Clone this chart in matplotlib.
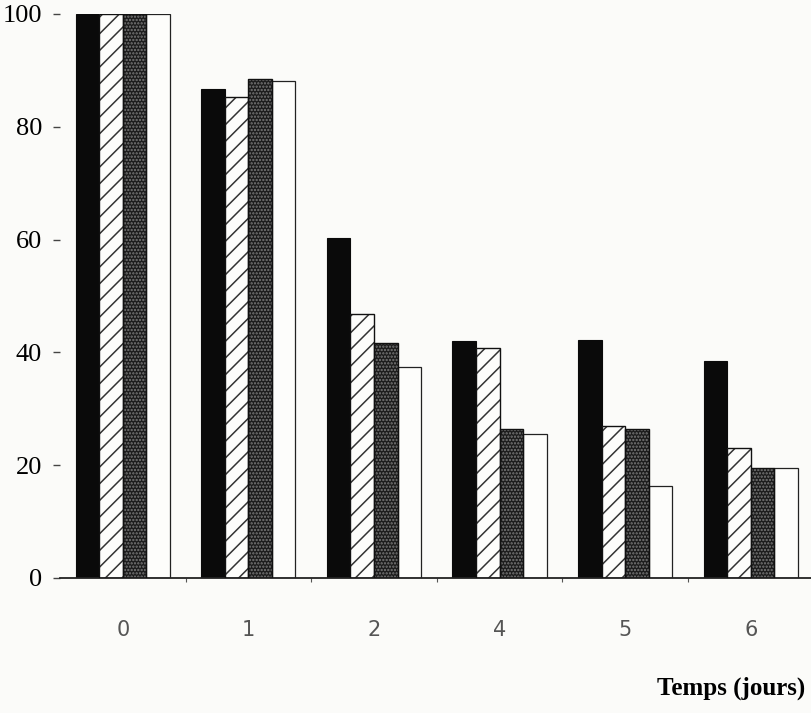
import matplotlib
matplotlib.use("Agg")
import matplotlib.pyplot as plt
import numpy as np

categories = ['0', '1', '2', '4', '5', '6']
serie_noire = [100, 86.7, 60.2, 42.0, 42.2, 38.4]
serie_hachuree = [100, 85.3, 46.8, 40.8, 26.9, 23.1]
serie_pointillee = [100, 88.5, 41.6, 26.4, 26.4, 19.5]
serie_blanche = [100, 88.1, 37.5, 25.5, 16.3, 19.5]
yticks = [0, 20, 40, 60, 80, 100]
xlabel_text = 'Temps (jours)'

plt.rcParams['hatch.linewidth'] = 1.1

fig = plt.figure(figsize=(8.11, 7.13), dpi=100)
fig.patch.set_facecolor('#fbfbf9')
ax = fig.add_axes([60/811, 1-578/713, 751/811, (578-14)/713])
ax.set_facecolor('#fbfbf9')

x = np.arange(len(categories))
w = 0.1875

# black
ax.bar(x - 1.5*w, serie_noire, w, color='#0a0a0a', edgecolor='#0a0a0a', linewidth=0.8, zorder=2)
# hatched
ax.bar(x - 0.5*w, serie_hachuree, w, color='#fdfdfb', edgecolor='#333333', hatch='//', linewidth=0, zorder=2)
ax.bar(x - 0.5*w, serie_hachuree, w, fill=False, edgecolor='#111111', linewidth=1.0, zorder=3)
# dotted dark
ax.bar(x + 0.5*w, serie_pointillee, w, color='#1c1c1c', edgecolor='#7a7a7a', hatch='.....', linewidth=0, zorder=2)
ax.bar(x + 0.5*w, serie_pointillee, w, fill=False, edgecolor='#111111', linewidth=1.0, zorder=3)
# white
ax.bar(x + 1.5*w, serie_blanche, w, color='#fdfdfb', edgecolor='#222222', linewidth=0.9, zorder=2)

ax.set_xlim(-0.5, 5.48)
ax.set_ylim(0, 100)

for s in ['top', 'right', 'left']:
    ax.spines[s].set_visible(False)
ax.spines['bottom'].set_linewidth(1.3)
ax.spines['bottom'].set_color('#222222')

ax.set_yticks(yticks)
ax.set_yticklabels([str(v) for v in yticks], fontfamily='Liberation Serif', fontsize=19)
ax.tick_params(axis='y', length=5, width=1.0, pad=8, color='#444444')

ax.set_xticks(x)
ax.set_xticklabels(categories, fontfamily='DejaVu Sans', fontsize=15, color='#555555')
ax.tick_params(axis='x', which='major', length=0, pad=30)
ax.set_xticks(x[:-1] + 0.5, minor=True)
ax.tick_params(axis='x', which='minor', length=3, width=0.8, color='#555555')

fig.text(805/811, 1-688/713, xlabel_text, ha='right', va='center',
         fontfamily='Liberation Serif', fontweight='bold', fontsize=18)

fig.savefig('out.png', dpi=100, facecolor=fig.get_facecolor())
